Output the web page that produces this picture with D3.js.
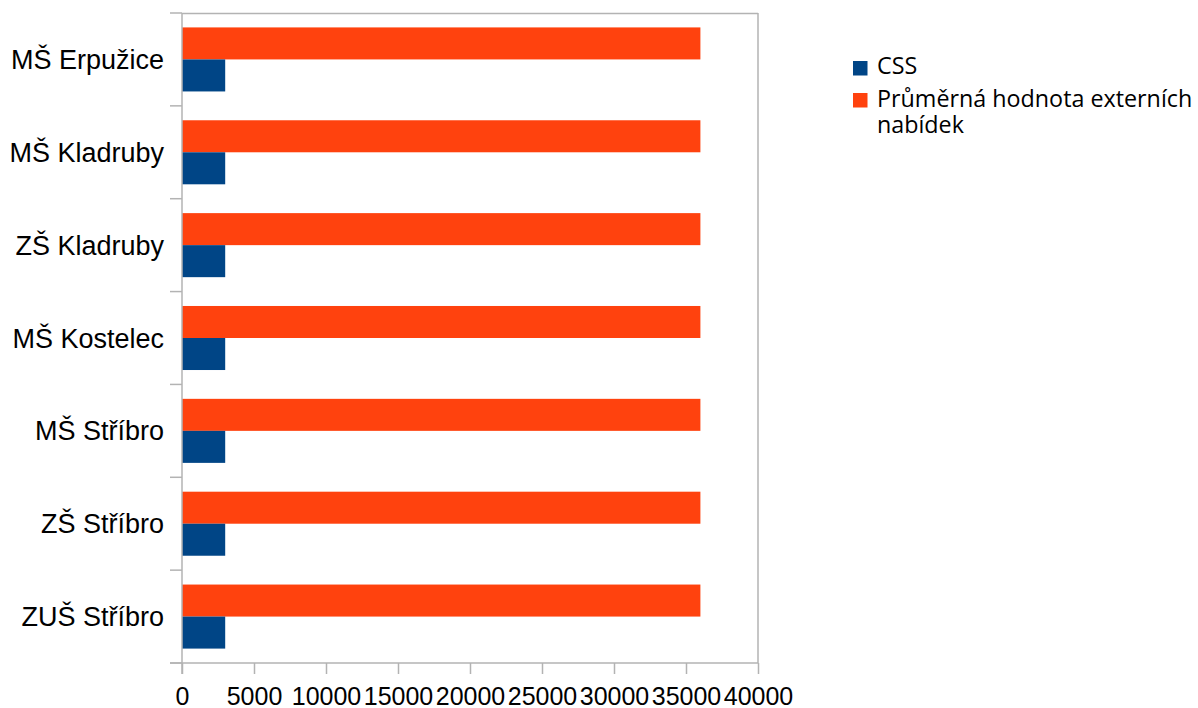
<!DOCTYPE html>
<html><head><meta charset="utf-8">
<script src="https://cdn.jsdelivr.net/npm/d3@7"></script>
<style>body{margin:0;background:#fff}svg{display:block}
.lab{font-family:"Liberation Sans","Arimo",Arial,sans-serif;}
.leg{font-family:"Open Sans",sans-serif;}
</style>
</head><body>
<svg id="c" width="1198" height="708"></svg>
<script>
const categories = ["MŠ Erpužice","MŠ Kladruby","ZŠ Kladruby","MŠ Kostelec","MŠ Stříbro","ZŠ Stříbro","ZUŠ Stříbro"];
const seriesNames = ["Průměrná hodnota externích nabídek","CSS"];
const externi = [36000,36000,36000,36000,36000,36000,36000];
const css = [3000,3000,3000,3000,3000,3000,3000];
const xTicks = [0,5000,10000,15000,20000,25000,30000,35000,40000];
const colors = {"CSS":"#004586","Průměrná hodnota externích nabídek":"#ff420e"};
const legendItems = ["CSS","Průměrná hodnota externích nabídek"];

const svg = d3.select("#c");
const L=182,R=758,T=13,B=663;
const x = d3.scaleLinear().domain([0,40000]).range([L,R]);
const y = d3.scaleBand().domain(categories).range([T,B]);
const inner = d3.scaleBand().domain(seriesNames).range([0,y.bandwidth()]).paddingInner(0).paddingOuter(0.45);
const grey="#b3b3b3";

// frame
svg.append("line").attr("x1",L).attr("x2",R).attr("y1",T+0.5).attr("y2",T+0.5).attr("stroke",grey).attr("stroke-width",1.5);
svg.append("line").attr("x1",R).attr("x2",R).attr("y1",T).attr("y2",B).attr("stroke",grey).attr("stroke-width",1.5);

const data = [];
categories.forEach((c,i)=>{data.push({c,s:seriesNames[0],v:externi[i]});data.push({c,s:seriesNames[1],v:css[i]});});
svg.append("g").selectAll("rect").data(data).join("rect")
  .attr("x",x(0)).attr("y",d=>y(d.c)+inner(d.s)).attr("height",inner.bandwidth())
  .attr("width",d=>x(d.v)-x(0)).attr("fill",d=>colors[d.s]);

// x axis
const xa = svg.append("g").attr("transform",`translate(0,${B})`)
  .call(d3.axisBottom(x).tickValues(xTicks).tickFormat(d3.format("d")).tickSize(11).tickSizeOuter(0).tickPadding(13));
xa.attr("font-family",null).attr("font-size",null);
xa.select(".domain").remove();
xa.append("line").attr("x1",L-12).attr("x2",R).attr("stroke",grey).attr("stroke-width",1.5);
xa.selectAll(".tick line").attr("stroke",grey).attr("stroke-width",1.5);
xa.selectAll("text").attr("class","lab").attr("fill","#000").style("font-size","25px");

// y axis
const ticksY = categories.map(c=>y(c)).concat([B]);
svg.append("g").selectAll("line").data(ticksY).join("line")
  .attr("x1",L-12).attr("x2",L).attr("y1",d=>d).attr("y2",d=>d).attr("stroke",grey).attr("stroke-width",1.5);
svg.append("line").attr("x1",L).attr("x2",L).attr("y1",T).attr("y2",B+11).attr("stroke",grey).attr("stroke-width",1.5);
svg.append("g").selectAll("text").data(categories).join("text")
  .attr("class","lab")
  .attr("x",164).attr("y",d=>y(d)+y.bandwidth()/2+9.5).attr("text-anchor","end")
  .style("font-size","27px").attr("fill","#000").text(d=>d);

// legend
const lg = svg.append("g");
const ly = [61,93];
legendItems.forEach((s,i)=>{
  lg.append("rect").attr("x",853).attr("y",ly[i]).attr("width",14.5).attr("height",14.5).attr("fill",colors[s]);
});
lg.append("text").attr("class","leg").attr("x",877).attr("y",74).style("font-size","23.3px").text("CSS");
const t2 = lg.append("text").attr("class","leg").attr("x",877).attr("y",107).style("font-size","23.3px");
t2.append("tspan").attr("x",877).text("Průměrná hodnota externích");
t2.append("tspan").attr("x",877).attr("dy",26).text("nabídek");
</script>
</body></html>
